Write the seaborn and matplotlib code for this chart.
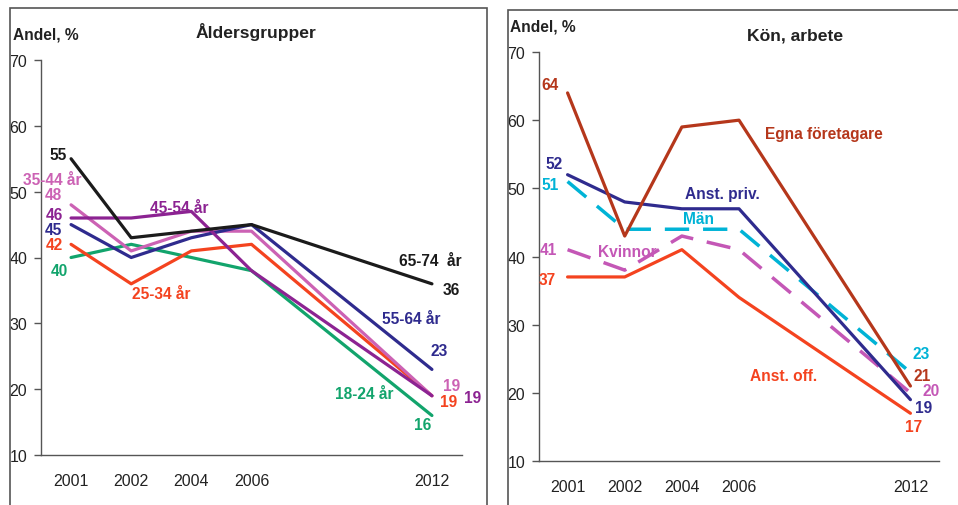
import numpy as np
import pandas as pd
import matplotlib
matplotlib.use("Agg")
import matplotlib.pyplot as plt
import seaborn as sns
from matplotlib.patches import Rectangle

sns.set_style("white")
plt.rcParams["font.family"] = ["Liberation Sans", "DejaVu Sans"]

# Data
years = ["2001", "2002", "2004", "2006", "2012"]
x_pos = [0, 1, 2, 3, 6]  # uneven year spacing on the axis

age_groups = ["18-24 år", "25-34 år", "35-44 år", "55-64 år", "45-54 år", "65-74 år"]
age_18_24 = [40, 42, 40, 38, 16]
age_25_34 = [42, 36, 41, 42, 19]
age_35_44 = [48, 41, 44, 44, 19]
age_45_54 = [46, 46, 47, 38, 19]
age_55_64 = [45, 40, 43, 45, 23]
age_65_74 = [55, 43, 44, 45, 36]

work_groups = ["Kvinnor", "Män", "Anst. off.", "Anst. priv.", "Egna företagare"]
kvinnor = [41, 38, 43, 41, 20]
man = [51, 44, 44, 44, 23]
anst_off = [37, 37, 41, 34, 17]
anst_priv = [52, 48, 47, 47, 19]
egna = [64, 43, 59, 60, 21]

age_values = [age_18_24, age_25_34, age_35_44, age_55_64, age_45_54, age_65_74]
work_values = [kvinnor, man, anst_off, anst_priv, egna]

age_colors = {"18-24 år": "#12a46c", "25-34 år": "#f4431f", "35-44 år": "#cc62b4",
              "45-54 år": "#8c2392", "55-64 år": "#2f2b8e", "65-74 år": "#1b1b1b"}
work_colors = {"Kvinnor": "#c457b6", "Män": "#00b3d6", "Anst. off.": "#f4431f",
               "Anst. priv.": "#2f2b8e", "Egna företagare": "#b5371b"}

df_age = pd.DataFrame([(g, x, v) for g, vals in zip(age_groups, age_values)
                       for x, v in zip(x_pos, vals)], columns=["grupp", "x", "andel"])
df_work = pd.DataFrame([(g, x, v) for g, vals in zip(work_groups, work_values)
                        for x, v in zip(x_pos, vals)], columns=["grupp", "x", "andel"])

W, H = 958, 506
fig = plt.figure(figsize=(W / 100, H / 100), dpi=100)

# panel frames
fig.patches.append(Rectangle((10 / W, -0.05), 477 / W, 1 - 9 / H + 0.05, transform=fig.transFigure,
                             fill=False, edgecolor="#555555", lw=1.2))
fig.patches.append(Rectangle((508 / W, -0.05), 0.5, 1 - 11 / H + 0.05, transform=fig.transFigure,
                             fill=False, edgecolor="#555555", lw=1.2))

ax1 = fig.add_axes([41 / W, (H - 456) / H, 421 / W, 395 / H])
ax2 = fig.add_axes([539 / W, (H - 462) / H, 400 / W, 409 / H])

for grp in age_groups:
    sns.lineplot(data=df_age[df_age.grupp == grp], x="x", y="andel", color=age_colors[grp],
                 lw=2.3, ax=ax1, legend=False)

for grp in work_groups:
    d = df_work[df_work.grupp == grp]
    if grp in ("Kvinnor", "Män"):
        sns.lineplot(data=d, x="x", y="andel", color=work_colors[grp], lw=2.5,
                     ax=ax2, legend=False, dashes=False, linestyle=(0, (7, 4)))
    else:
        sns.lineplot(data=d, x="x", y="andel", color=work_colors[grp], lw=2.3,
                     ax=ax2, legend=False)

for ax in (ax1, ax2):
    ax.set_xlim(-0.5, 6.5)
    ax.set_ylim(10, 70)
    ax.set_yticks(range(10, 71, 10))
    ax.set_xticks(x_pos)
    ax.set_xticklabels(years)
    ax.set_xlabel("")
    ax.set_ylabel("")
    ax.set_facecolor("none")
    for s in ("top", "right"):
        ax.spines[s].set_visible(False)
    for s in ("left", "bottom"):
        ax.spines[s].set_color("#555555")
        ax.spines[s].set_linewidth(1.0)
    ax.tick_params(axis="y", length=5, width=1, color="#555555", pad=5,
                   labelsize=11.5, labelcolor="#222222", left=True)
    ax.tick_params(axis="x", length=0, pad=13, labelsize=11.5, labelcolor="#222222")

def lab(ax, x, y, s, c, ha="center"):
    ax.text(x, y, s, color=c, fontsize=11.2, fontweight="bold", ha=ha, va="center")

# left panel labels
lab(ax1, -0.22, 55.7, "55", age_colors["65-74 år"])
lab(ax1, -0.32, 51.9, "35-44 år", age_colors["35-44 år"])
lab(ax1, -0.30, 49.5, "48", age_colors["35-44 år"])
lab(ax1, -0.27, 46.5, "46", age_colors["45-54 år"])
lab(ax1, -0.30, 44.3, "45", age_colors["55-64 år"])
lab(ax1, -0.27, 41.9, "42", age_colors["25-34 år"])
lab(ax1, -0.20, 38.1, "40", age_colors["18-24 år"])
lab(ax1, 1.80, 47.6, "45-54 år", age_colors["45-54 år"])
lab(ax1, 1.50, 34.6, "25-34 år", age_colors["25-34 år"])
lab(ax1, 5.98, 39.6, "65-74  år", age_colors["65-74 år"])
lab(ax1, 6.32, 35.2, "36", age_colors["65-74 år"])
lab(ax1, 5.65, 30.8, "55-64 år", age_colors["55-64 år"])
lab(ax1, 6.12, 25.8, "23", age_colors["55-64 år"])
lab(ax1, 6.33, 20.6, "19", age_colors["35-44 år"])
lab(ax1, 6.27, 18.2, "19", age_colors["25-34 år"])
lab(ax1, 6.67, 18.8, "19", age_colors["45-54 år"])
lab(ax1, 4.87, 19.3, "18-24 år", age_colors["18-24 år"])
lab(ax1, 5.85, 14.6, "16", age_colors["18-24 år"])

# right panel labels
lab(ax2, -0.31, 65.3, "64", work_colors["Egna företagare"])
lab(ax2, -0.23, 53.7, "52", work_colors["Anst. priv."])
lab(ax2, -0.31, 50.5, "51", work_colors["Män"])
lab(ax2, -0.33, 41.1, "41", work_colors["Kvinnor"])
lab(ax2, -0.35, 36.6, "37", work_colors["Anst. off."])
lab(ax2, 4.48, 58.1, "Egna företagare", work_colors["Egna företagare"])
lab(ax2, 2.71, 49.2, "Anst. priv.", work_colors["Anst. priv."])
lab(ax2, 2.29, 45.6, "Män", work_colors["Män"])
lab(ax2, 1.05, 40.8, "Kvinnor", work_colors["Kvinnor"])
lab(ax2, 3.78, 22.5, "Anst. off.", work_colors["Anst. off."])
lab(ax2, 6.19, 25.8, "23", work_colors["Män"])
lab(ax2, 6.21, 22.6, "21", work_colors["Egna företagare"])
lab(ax2, 6.37, 20.3, "20", work_colors["Kvinnor"])
lab(ax2, 6.23, 17.8, "19", work_colors["Anst. priv."])
lab(ax2, 6.05, 15.0, "17", work_colors["Anst. off."])

# titles
fig.text(13 / W, 1 - 35 / H, "Andel, %", fontsize=11.2, fontweight="bold", va="center", color="#222222")
fig.text(256 / W, 1 - 32 / H, "Åldersgrupper", fontsize=12.6, fontweight="bold", ha="center",
         va="center", color="#222222")
fig.text(510 / W, 1 - 27 / H, "Andel, %", fontsize=11.2, fontweight="bold", va="center", color="#222222")
fig.text(795 / W, 1 - 36 / H, "Kön, arbete", fontsize=12.6, fontweight="bold", ha="center",
         va="center", color="#222222")

fig.savefig("out.png", dpi=100)
